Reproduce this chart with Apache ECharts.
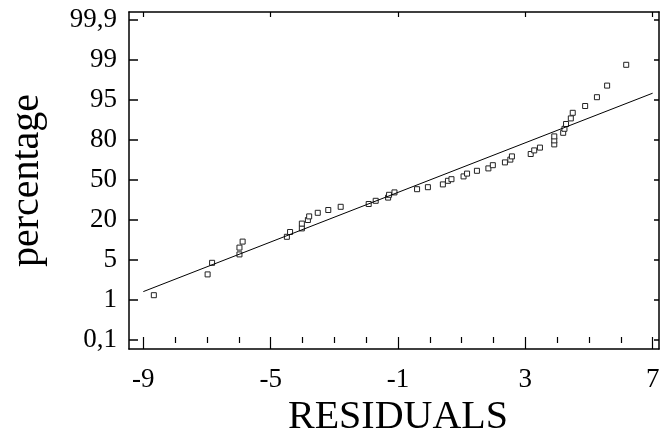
<!DOCTYPE html>
<html>
<head>
<meta charset="utf-8">
<script src="https://cdn.jsdelivr.net/npm/echarts@6/dist/echarts.min.js"></script>
<style>
html,body{margin:0;padding:0;background:#fff;}
#chart{width:660px;height:440px;}
</style>
</head>
<body>
<div id="chart"></div>
<script>
// Residuals (x) and their position on the normal-probability (percentage) axis (y, in tick-step units: 0 = 0,1% ... 8 = 99,9%)
var residuals = [-8.67,-6.98,-6.84,-5.98,-5.98,-5.88,-4.49,-4.39,-4.02,-4.02,-3.83,-3.79,-3.52,-3.19,-2.80,-1.92,-1.70,-1.31,-1.28,-1.11,-0.40,-0.06,0.41,0.57,0.68,1.06,1.17,1.48,1.84,1.98,2.36,2.53,2.58,3.17,3.28,3.46,3.91,3.91,3.91,4.19,4.23,4.28,4.43,4.49,4.88,5.25,5.57,6.17];
var probPosition = [1.12,1.64,1.93,2.14,2.31,2.46,2.58,2.70,2.79,2.91,3.00,3.09,3.18,3.25,3.33,3.40,3.48,3.56,3.63,3.69,3.77,3.82,3.89,3.98,4.02,4.09,4.16,4.23,4.29,4.37,4.44,4.51,4.59,4.65,4.74,4.81,4.89,4.99,5.09,5.18,5.28,5.40,5.54,5.68,5.85,6.07,6.36,6.88];
// Fitted reference line
var fitX = [-9, 7];
var fitY = [1.21, 6.17];
// Tick labels
var xTickValues = [-9, -5, -1, 3, 7];
var xMinorTickValues = [-9,-8,-7,-6,-5,-4,-3,-2,-1,0,1,2,3,4,5,6,7];
var yTickValues = [0, 1, 2, 3, 4, 5, 6, 7, 8];
var yTickLabels = ['0,1', '1', '5', '20', '50', '80', '95', '99', '99,9'];

var FONT = "'Liberation Serif','Times New Roman',serif";
var xMin = -9.45, xMax = 7.2, yMin = -0.225, yMax = 8.2;

var chart = echarts.init(document.getElementById('chart'), null, {renderer: 'canvas'});

function xAx(opts) {
  var base = {
    type: 'value', min: xMin, max: xMax, gridIndex: 0,
    splitLine: {show: false},
    axisLine: {show: true, onZero: false, lineStyle: {color: '#000', width: 1.5}},
    axisLabel: {show: false},
    axisTick: {show: false}
  };
  return Object.assign(base, opts);
}
function yAx(opts) {
  var base = {
    type: 'value', min: yMin, max: yMax, gridIndex: 0,
    splitLine: {show: false},
    axisLine: {show: true, onZero: false, lineStyle: {color: '#000', width: 1.5}},
    axisLabel: {show: false},
    axisTick: {show: false}
  };
  return Object.assign(base, opts);
}

var scatterData = residuals.map(function (r, i) { return [r, probPosition[i]]; });
var lineData = fitX.map(function (x, i) { return [x, fitY[i]]; });

chart.setOption({
  animation: false,
  backgroundColor: '#fff',
  grid: {left: 129, right: 1, top: 12, bottom: 91, containLabel: false, outerBoundsMode: 'none'},
  xAxis: [
    xAx({
      position: 'bottom',
      name: 'RESIDUALS', nameLocation: 'middle', nameGap: 37,
      nameTextStyle: {fontFamily: FONT, fontSize: 40, color: '#000', padding: [0, 0, 0, 8]},
      axisTick: {show: true, inside: true, length: 6, customValues: xTickValues, lineStyle: {color: '#000', width: 1.2}},
      axisLabel: {show: true, customValues: xTickValues, fontFamily: FONT, fontSize: 27, color: '#000', margin: 17,
        formatter: function (v) { return String(v); }}
    }),
    xAx({
      position: 'bottom', axisLine: {show: false},
      axisTick: {show: true, inside: true, length: 3, customValues: xMinorTickValues, lineStyle: {color: '#000', width: 1.2}}
    }),
    xAx({
      position: 'top',
      axisTick: {show: true, inside: true, length: 5, customValues: xTickValues, lineStyle: {color: '#000', width: 1.2}}
    }),
    xAx({
      position: 'top', axisLine: {show: false},
      axisTick: {show: true, inside: true, length: 3, customValues: xMinorTickValues, lineStyle: {color: '#000', width: 1.2}}
    })
  ],
  yAxis: [
    yAx({
      position: 'left',
      name: 'percentage', nameLocation: 'middle', nameGap: 82, nameRotate: 90,
      nameTextStyle: {fontFamily: FONT, fontSize: 40, color: '#000'},
      axisTick: {show: true, inside: true, length: 9, customValues: yTickValues, lineStyle: {color: '#000', width: 1.5}},
      axisLabel: {show: true, customValues: yTickValues, fontFamily: FONT, fontSize: 27, color: '#000', margin: 12,
        formatter: function (v) { return yTickLabels[Math.round(v)]; }}
    }),
    yAx({
      position: 'right',
      axisTick: {show: true, inside: true, length: 5, customValues: yTickValues, lineStyle: {color: '#000', width: 1.5}}
    })
  ],
  series: [
    {
      type: 'line', xAxisIndex: 0, yAxisIndex: 0,
      data: lineData, symbol: 'none', silent: true,
      lineStyle: {color: '#000', width: 1}
    },
    {
      type: 'scatter', xAxisIndex: 0, yAxisIndex: 0,
      data: scatterData, symbol: 'rect', symbolSize: 5,
      itemStyle: {color: '#fff', borderColor: '#222', borderWidth: 1, opacity: 1}
    }
  ]
});
</script>
</body>
</html>
